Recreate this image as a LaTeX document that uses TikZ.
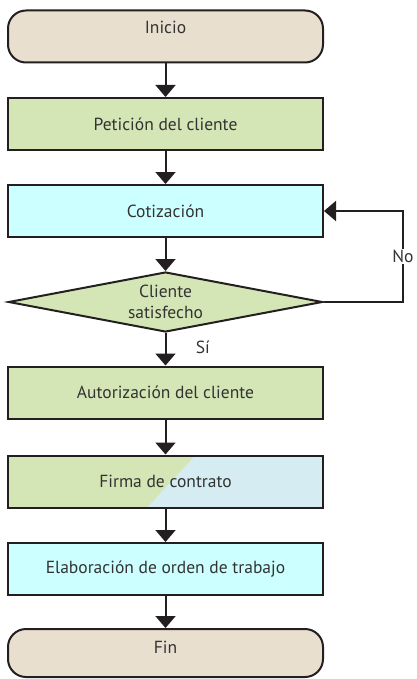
\documentclass[tikz,border=0pt]{standalone}
\usepackage{fontspec}
\setmainfont{PT Sans}
\usetikzlibrary{arrows.meta,shapes.geometric}

\definecolor{beige}{HTML}{E8DFCF}
\definecolor{verde}{HTML}{D5E6B6}
\definecolor{celeste}{HTML}{CCFFFF}
\definecolor{azulclaro}{HTML}{D4ECF2}
\definecolor{linea}{HTML}{231F20}

\tikzset{
  texto/.style={font=\fontsize{17.5}{21}\selectfont, text=black!80},
  caja/.style={draw=linea, line width=2pt, minimum width=315pt, minimum height=52pt,
    inner sep=0pt, texto},
  terminal/.style={caja, rounded corners=18pt, fill=beige},
  flecha/.style={draw=linea, line width=2pt, -{Triangle[width=20pt,length=12pt]}},
}

\begin{document}
\begin{tikzpicture}[x=1pt, y=-1pt]
    \useasboundingbox (0,0) rectangle (417,679);
    \node[terminal, label={[texto, yshift=9pt]center:Inicio}] (inicio) at (165.5,36.5) {};
    \node[caja, fill=verde] (peticion) at (165.5,124) {Petición del cliente};
    \node[caja, fill=celeste] (cotizacion) at (165.5,211) {Cotización};
    \node[caja, shape=diamond, aspect=5.2, minimum width=314pt, minimum height=60pt,
      fill=verde, align=center] (satisf) at (165.5,302) {Cliente\\satisfecho};
    \node[caja, fill=verde] (autoriz) at (165.5,392.5) {Autorización del cliente};
    % dos colores separados en diagonal
    \node[caja, fill=azulclaro, path picture={
      \fill[verde] (path picture bounding box.south west) -- (path picture bounding box.north west)
        -- ([xshift=29.5pt]path picture bounding box.north) -- ([xshift=-18.5pt]path picture bounding box.south) -- cycle;
    }] (firma) at (165.5,481.5) {Firma de contrato};
    \node[caja, fill=celeste] (orden) at (165.5,569) {Elaboración de orden de trabajo};
    \node[terminal, minimum height=48pt, label={[texto, yshift=6pt]center:Fin}] (fin) at (165.5,653) {};

    \draw[flecha] (inicio) -- (peticion);
    \draw[flecha] (peticion) -- (cotizacion);
    \draw[flecha] (cotizacion) -- (satisf);
    \draw[flecha] (satisf) -- node[right=26pt, pos=0.45, texto] (si) {Sí} (autoriz);
    \draw[flecha] (autoriz) -- (firma);
    \draw[flecha] (firma) -- (orden);
    \draw[flecha] (orden) -- (fin);

    \coordinate (vuelta) at (403,302);
    \draw[flecha] (satisf.east) -- (vuelta) |- node[pos=0.25, fill=white, inner sep=1pt,
      texto] (no) {No} (cotizacion.east);
\end{tikzpicture}
\end{document}
